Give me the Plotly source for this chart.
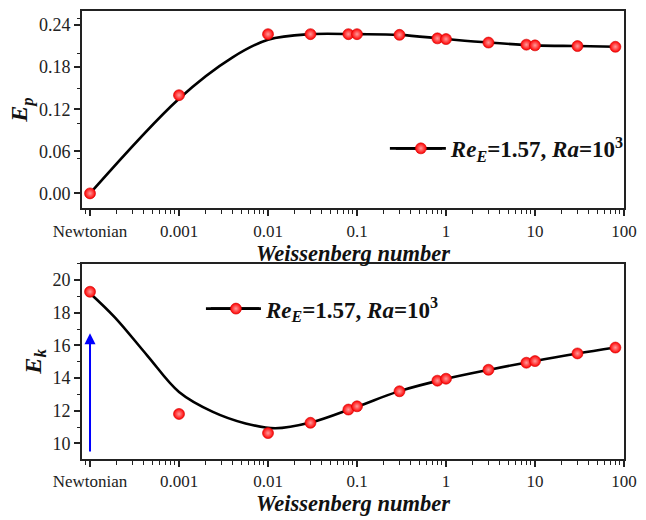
import plotly.graph_objects as go

# ---------------- data ----------------
wi = [1e-4, 0.001, 0.01, 0.03, 0.08, 0.1, 0.3, 0.8, 1, 3, 8, 10, 30, 80]
ep = [0.000, 0.140, 0.227, 0.227, 0.227, 0.227, 0.226, 0.221, 0.220, 0.215, 0.212, 0.211, 0.210, 0.209]
ek = [19.29, 11.80, 10.63, 11.26, 12.07, 12.27, 13.19, 13.84, 13.96, 14.51, 14.94, 15.04, 15.51, 15.87]

# fitted curves
fit_x_p = [1e-4, 0.001, 0.004, 0.01, 0.03, 0.1, 0.3, 1, 3, 10, 30, 80]
fit_ep = [0.000, 0.135, 0.194, 0.219, 0.227, 0.227, 0.226, 0.220, 0.215, 0.211, 0.210, 0.209]
fit_x_k = [1e-4, 1.9e-4, 4.4e-4, 0.001, 0.0024, 0.0056, 0.012, 0.03, 0.1, 0.3, 1, 3, 10, 30, 80]
fit_ek = [19.20, 17.72, 15.38, 13.15, 11.93, 11.22, 10.92, 11.27, 12.25, 13.20, 13.95, 14.50, 15.05, 15.50, 15.87]

x_tickvals = [1e-4, 1e-3, 1e-2, 1e-1, 1, 10, 100]
x_ticktext = ["Newtonian", "0.001", "0.01", "0.1", "1", "10", "100"]
ep_ticks = [0.00, 0.06, 0.12, 0.18, 0.24]
ek_ticks = [10, 12, 14, 16, 18, 20]

legend_label = "<b><i>Re</i><sub><i>E</i></sub>=1.57, <i>Ra</i>=10<sup>3</sup></b>"

# ---------------- figure ----------------
SERIF = "Liberation Serif, Times New Roman, serif"
fig = go.Figure()

marker_style = dict(size=11, color="#ff0000", line=dict(color="#d00000", width=0.6),
                    gradient=dict(type="radial", color="#ff9a9a"))

for xa, ya, fx, fy, dy, lg in [("x", "y", fit_x_p, fit_ep, ep, "legend"),
                               ("x2", "y2", fit_x_k, fit_ek, ek, "legend2")]:
    fig.add_trace(go.Scatter(x=fx, y=fy, mode="lines", xaxis=xa, yaxis=ya,
                             line=dict(color="black", width=2.6, shape="spline", smoothing=1.0),
                             showlegend=False, hoverinfo="skip"))
    fig.add_trace(go.Scatter(x=wi, y=dy, mode="markers", xaxis=xa, yaxis=ya,
                             marker=marker_style, showlegend=False))
    fig.add_trace(go.Scatter(x=[None], y=[None], mode="lines+markers", xaxis=xa, yaxis=ya,
                             line=dict(color="black", width=2.6), marker=marker_style,
                             name=legend_label, legend=lg, showlegend=True))

minor_vals = [k * 10.0 ** n for n in range(-5, 2) for k in range(2, 10)]

axis_common = dict(type="log", range=[-4.09, 2], tickvals=x_tickvals, ticktext=x_ticktext,
                   ticks="outside", ticklen=6, tickwidth=1.5, tickcolor="#222",
                   showline=True, linewidth=2, linecolor="#222", mirror=True,
                   showgrid=False, zeroline=False,
                   tickfont=dict(family=SERIF, size=17, color="#222"),
                   minor=dict(tickvals=minor_vals, ticks="outside", ticklen=3.5, tickwidth=1.2, tickcolor="#222"),
                   title=dict(text="<b><i>Weissenberg number</i></b>", font=dict(family=SERIF, size=22.5, color="#111"),
                              standoff=1))

yaxis_common = dict(ticks="outside", ticklen=6, tickwidth=1.5, tickcolor="#222",
                    showline=True, linewidth=2, linecolor="#222", mirror=True,
                    showgrid=False, zeroline=False,
                    tickfont=dict(family=SERIF, size=18, color="#222"))

# plot-area geometry in pixels (for placing legends)
L, R, T, B = 82, 633, 9, 459
px = lambda v: (v - L) / (R - L)
py = lambda v: (B - v) / (B - T)

fig.update_layout(
    width=646, height=520,
    margin=dict(l=L, r=646 - R, t=T, b=520 - B),
    plot_bgcolor="white", paper_bgcolor="white",
    xaxis=dict(**axis_common, domain=[0, 1], anchor="y"),
    xaxis2=dict(**axis_common, domain=[0, 1], anchor="y2"),
    yaxis=dict(**yaxis_common, domain=[0.56, 1.0], range=[-0.021, 0.26], tickvals=ep_ticks,
               ticktext=["%.2f" % v for v in ep_ticks],
               minor=dict(ticks="outside", ticklen=3.5, tickwidth=1.2, tickcolor="#222", nticks=2),
               title=dict(text="<b><i>E<sub>p</sub></i></b>", font=dict(family=SERIF, size=24, color="#111"),
                          standoff=4)),
    yaxis2=dict(**yaxis_common, domain=[0, 0.4356], range=[9.04, 21.0], tickvals=ek_ticks,
                minor=dict(ticks="outside", ticklen=3.5, tickwidth=1.2, tickcolor="#222", dtick=1),
                title=dict(text="<b><i>E<sub>k</sub></i></b>", font=dict(family=SERIF, size=24, color="#111"),
                           standoff=4)),
    legend=dict(x=px(396), y=py(147), xanchor="left", yanchor="middle", itemwidth=50,
                bgcolor="rgba(0,0,0,0)", font=dict(family=SERIF, size=23, color="#111")),
    legend2=dict(x=px(208), y=py(308), xanchor="left", yanchor="middle", itemwidth=50,
                 bgcolor="rgba(0,0,0,0)", font=dict(family=SERIF, size=23, color="#111")),
    showlegend=True,
)

# extend the legend line symbols to the reference length
for x0, x1, yy in [(395, 448, 147), (208, 262, 308)]:
    fig.add_shape(type="line", xref="paper", yref="paper", x0=px(x0), x1=px(x1), y0=py(yy), y1=py(yy),
                  line=dict(color="black", width=2.6), layer="below")

# blue arrow at the Newtonian position
fig.add_annotation(x=-4, y=16.75, ax=-4, ay=9.4, xref="x2", yref="y2", axref="x2", ayref="y2",
                   showarrow=True, arrowhead=2, arrowsize=1.1, arrowwidth=2, arrowcolor="#0000ff", text="")

fig.write_html("out.html")
